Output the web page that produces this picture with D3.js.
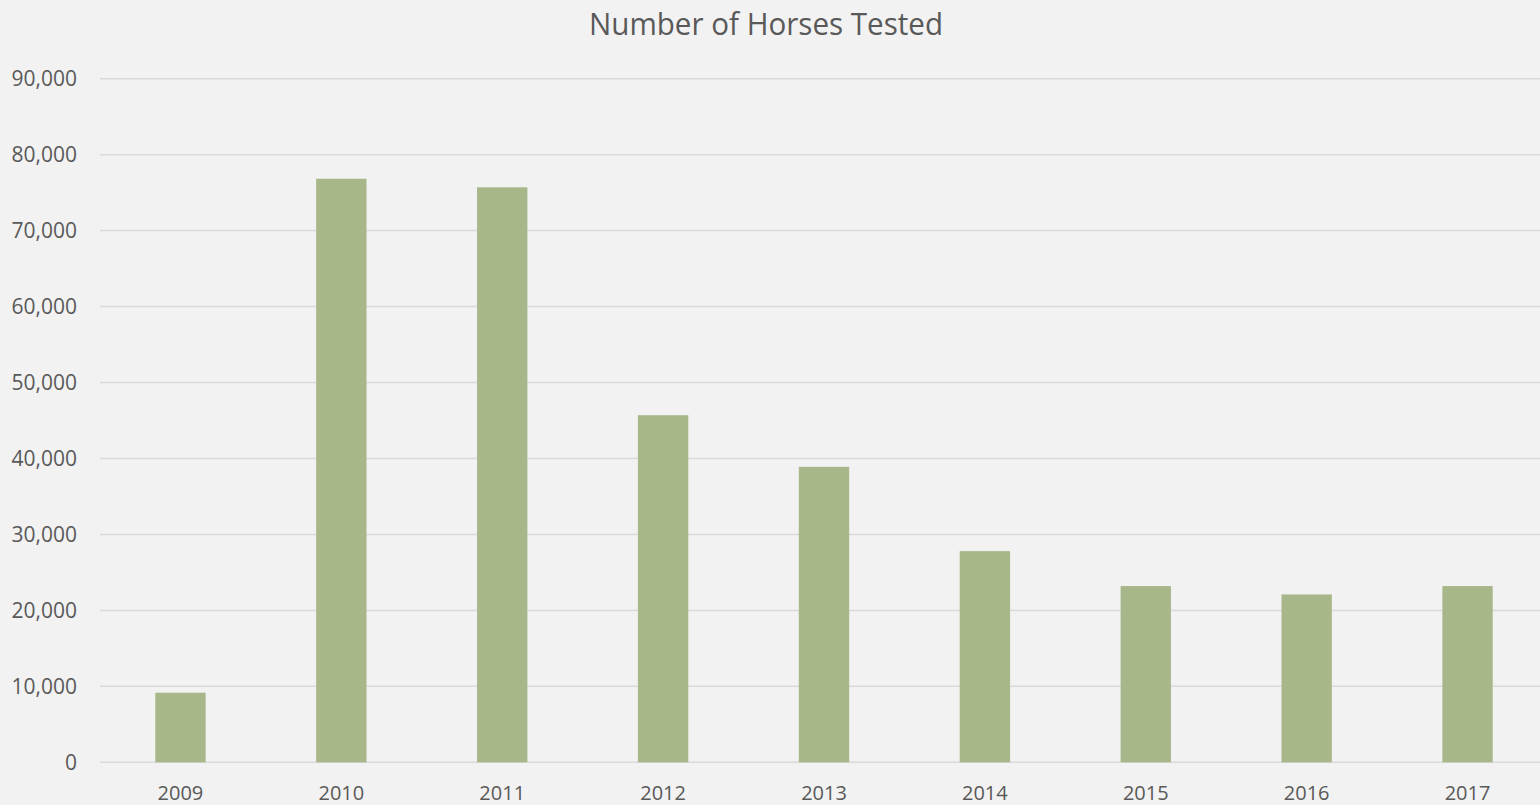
<!DOCTYPE html>
<html>
<head>
<meta charset="utf-8">
<script src="https://cdn.jsdelivr.net/npm/d3@7"></script>
<style>
  html, body { margin: 0; padding: 0; background: #f2f2f2; }
  svg { display: block; font-family: "Open Sans", "Noto Sans", sans-serif; }
</style>
</head>
<body>
<svg id="chart" width="1540" height="805"></svg>
<script>
// data
var years = ["2009", "2010", "2011", "2012", "2013", "2014", "2015", "2016", "2017"];
var horsesTested = [9160, 76830, 75700, 45700, 38900, 27800, 23200, 22100, 23200];
var yTicks = [0, 10000, 20000, 30000, 40000, 50000, 60000, 70000, 80000, 90000];
var chartTitle = "Number of Horses Tested";

var svg = d3.select("#chart");
var plotLeft = 100, plotRight = 1548, plotTop = 78.7, plotBottom = 762.3;

var xScale = d3.scaleBand()
    .domain(years)
    .range([plotLeft, plotRight])
    .paddingInner(0.687)
    .paddingOuter(0.3435);

var yScale = d3.scaleLinear()
    .domain([0, 90000])
    .range([plotBottom, plotTop]);

svg.append("rect").attr("width", 1540).attr("height", 805).attr("fill", "#f2f2f2");

// gridlines + y labels
var grid = svg.append("g");
grid.selectAll("line")
    .data(yTicks)
    .enter().append("line")
    .attr("x1", plotLeft)
    .attr("x2", 1540)
    .attr("y1", function (d) { return yScale(d); })
    .attr("y2", function (d) { return yScale(d); })
    .attr("stroke", "#d9d9d9")
    .attr("stroke-width", 1.5);

grid.selectAll("text")
    .data(yTicks)
    .enter().append("text")
    .attr("x", 77)
    .attr("y", function (d) { return yScale(d); })
    .attr("dy", "0.35em")
    .attr("text-anchor", "end")
    .attr("fill", "#595959")
    .style("font-size", "21px")
    .text(function (d) { return d3.format(",")(d); });

// bars
svg.append("g").selectAll("rect")
    .data(horsesTested)
    .enter().append("rect")
    .attr("x", function (d, i) { return xScale(years[i]); })
    .attr("width", xScale.bandwidth())
    .attr("y", function (d) { return yScale(d); })
    .attr("height", function (d) { return plotBottom - yScale(d); })
    .attr("fill", "#a7b78a");

// x labels
svg.append("g").selectAll("text")
    .data(years)
    .enter().append("text")
    .attr("x", function (d) { return xScale(d) + xScale.bandwidth() / 2; })
    .attr("y", 800)
    .attr("text-anchor", "middle")
    .attr("fill", "#595959")
    .style("font-size", "20px")
    .text(function (d) { return d; });

// title
svg.append("text")
    .attr("x", 766)
    .attr("y", 35)
    .attr("text-anchor", "middle")
    .attr("fill", "#595959")
    .style("font-size", "31px")
    .attr("textLength", 354)
    .attr("lengthAdjust", "spacingAndGlyphs")
    .text(chartTitle);
</script>
</body>
</html>
